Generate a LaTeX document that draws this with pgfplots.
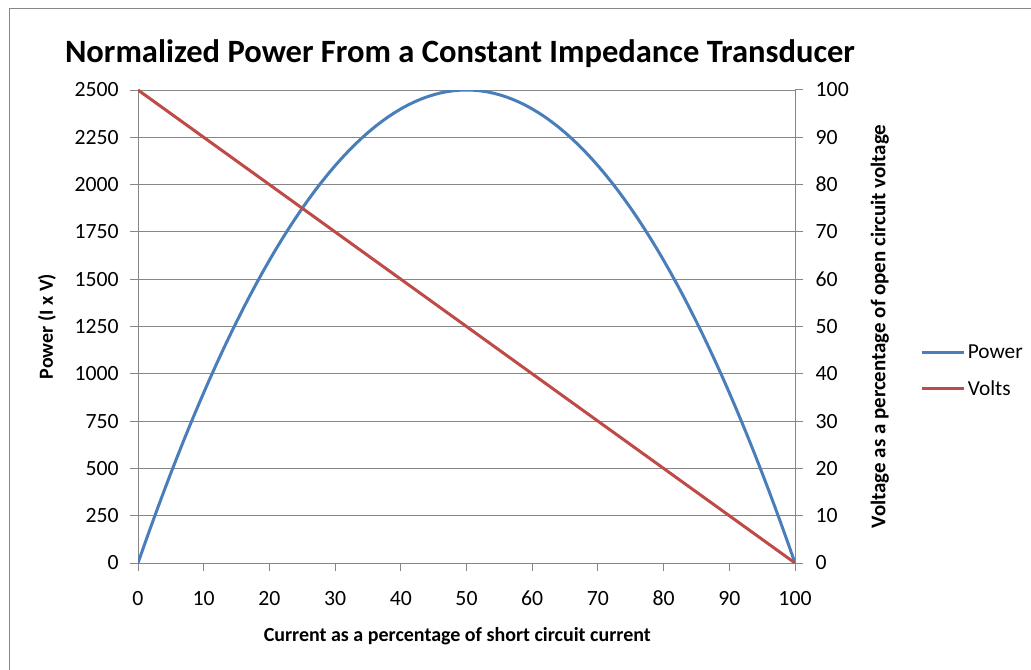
\documentclass[border=0pt]{standalone}
\usepackage{fontspec}
\setmainfont{Carlito}
\usepackage{pgfplots}
\usepackage{pgfplotstable}
\pgfplotsset{compat=1.18}
\definecolor{pblue}{HTML}{4A7EBB}
\definecolor{vred}{HTML}{BE4B48}
\definecolor{axgray}{HTML}{868686}
\pgfplotstableread{
I P V
0 0 100
1 99 99
2 196 98
3 291 97
4 384 96
5 475 95
6 564 94
7 651 93
8 736 92
9 819 91
10 900 90
11 979 89
12 1056 88
13 1131 87
14 1204 86
15 1275 85
16 1344 84
17 1411 83
18 1476 82
19 1539 81
20 1600 80
21 1659 79
22 1716 78
23 1771 77
24 1824 76
25 1875 75
26 1924 74
27 1971 73
28 2016 72
29 2059 71
30 2100 70
31 2139 69
32 2176 68
33 2211 67
34 2244 66
35 2275 65
36 2304 64
37 2331 63
38 2356 62
39 2379 61
40 2400 60
41 2419 59
42 2436 58
43 2451 57
44 2464 56
45 2475 55
46 2484 54
47 2491 53
48 2496 52
49 2499 51
50 2500 50
51 2499 49
52 2496 48
53 2491 47
54 2484 46
55 2475 45
56 2464 44
57 2451 43
58 2436 42
59 2419 41
60 2400 40
61 2379 39
62 2356 38
63 2331 37
64 2304 36
65 2275 35
66 2244 34
67 2211 33
68 2176 32
69 2139 31
70 2100 30
71 2059 29
72 2016 28
73 1971 27
74 1924 26
75 1875 25
76 1824 24
77 1771 23
78 1716 22
79 1659 21
80 1600 20
81 1539 19
82 1476 18
83 1411 17
84 1344 16
85 1275 15
86 1204 14
87 1131 13
88 1056 12
89 979 11
90 900 10
91 819 9
92 736 8
93 651 7
94 564 6
95 475 5
96 384 4
97 291 3
98 196 2
99 99 1
100 0 0
}\data
\begin{document}
\begin{tikzpicture}
\useasboundingbox (0,0) rectangle (773.25pt,501.75pt);
\fill[white] (0,0) rectangle (773.25pt,501.75pt);
\draw[axgray, line width=0.75pt] (6.75pt,-5pt) rectangle (780pt,495pt);
\node[font=\fontsize{24.4}{28}\selectfont\bfseries] at (345pt,461.5pt) {Normalized Power From a Constant Impedance Transducer};
\pgfplotsset{
  every axis/.style={
    at={(103.5pt,79.5pt)}, anchor=south west,
    scale only axis, width=492.75pt, height=354.75pt,
    xmin=0, xmax=100,
    tick label style={font=\fontsize{16.3}{18}\selectfont},
    label style={font=\fontsize{15}{17}\selectfont\bfseries},
    axis line style={axgray, line width=0.75pt},
    major tick style={axgray, line width=0.75pt},
    major tick length=6pt,
    tick align=outside,
    /pgf/number format/assume math mode=true,
    /pgf/number format/1000 sep={},
  }
}
\begin{axis}[
  axis x line*=bottom, axis y line*=left,
  ymin=0, ymax=2500, ytick={0,250,...,2500},
  xtick={0,10,...,100},
  ymajorgrids, grid style={axgray, line width=0.75pt},
  xticklabel style={yshift=-11pt, text height=11pt, text depth=0pt},
  yticklabel style={xshift=-5pt},
  xlabel={Current as a percentage of short circuit current},
  xlabel style={at={(axis description cs:0.486,-0.1543)}, anchor=center},
  ylabel={Power (I x V)},
  ylabel style={at={(axis description cs:-0.1385,0.5)}, anchor=center, rotate=0},
]
\addplot[pblue, line width=2.25pt] table[x=I, y=P] {\data};
\end{axis}
\begin{axis}[
  axis x line=none, axis y line*=right,
  ymin=0, ymax=100, ytick={0,10,...,100},
  yticklabel style={xshift=6pt},
  ylabel={Voltage as a percentage of open circuit voltage},
  ylabel style={at={(axis description cs:1.129,0.5)}, anchor=center, rotate=0, font=\fontsize{15.7}{17}\selectfont\bfseries},
  legend style={at={(axis description cs:1.185,0.406)}, anchor=west, draw=none, fill=none,
    font=\fontsize{16}{18}\selectfont, row sep=11pt,
    legend cell align=left},
  legend image code/.code={\draw[#1] (0pt,0pt) -- (31pt,0pt);},
]
\addlegendimage{pblue, line width=2.25pt}
\addlegendentry{Power}
\addplot[vred, line width=2.25pt] table[x=I, y=V] {\data};
\addlegendentry{Volts}
\end{axis}
\end{tikzpicture}
\end{document}
